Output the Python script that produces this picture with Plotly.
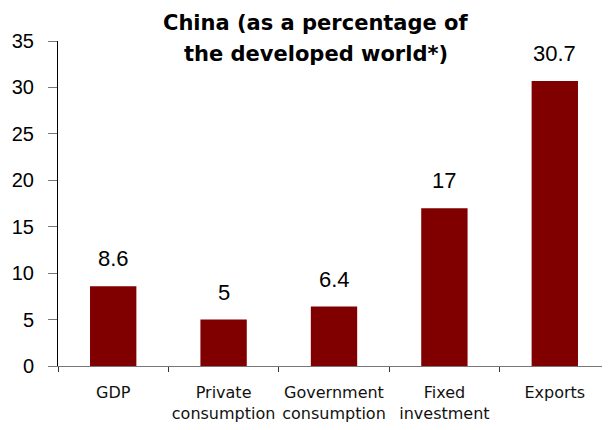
import plotly.graph_objects as go

categories = ["GDP", "Private<br>consumption", "Government<br>consumption", "Fixed<br>investment", "Exports"]
values = [8.6, 5, 6.4, 17, 30.7]
labels = ["8.6", "5", "6.4", "17", "30.7"]
y_ticks = [0, 5, 10, 15, 20, 25, 30, 35]
title_lines = ["China (as a percentage of", "the developed world*)"]

FONT = "Arial, Liberation Sans, sans-serif"

fig = go.Figure()
fig.add_trace(go.Bar(
    x=categories, y=values,
    marker=dict(color="#800000", line=dict(width=0)),
    width=0.42,
))
for c, v, t in zip(categories, values, labels):
    fig.add_annotation(x=c, y=v, text=t, showarrow=False, yanchor="bottom",
                       yshift=13, font=dict(family=FONT, size=22, color="black"))

for line, shift in zip(title_lines, [18, -13]):
    fig.add_annotation(xref="paper", yref="paper", x=0.468, y=1, yshift=shift,
                       xanchor="center", yanchor="middle", showarrow=False,
                       text="<b>" + line + "</b>",
                       font=dict(family="DejaVu Sans, sans-serif", size=21, color="black"))

fig.update_layout(
    width=602, height=422,
    margin=dict(l=50, r=0, t=33, b=64, autoexpand=False),
    paper_bgcolor="white", plot_bgcolor="white",
    showlegend=False,
    font=dict(family=FONT),
)
fig.update_yaxes(range=[0, 35], tickvals=y_ticks, ticks="outside", ticklen=9,
                 tickcolor="#777", showline=True, linecolor="black", linewidth=1,
                 showgrid=False, zeroline=False, ticklabelstandoff=10,
                 automargin=False,
                 tickfont=dict(family=FONT, size=20, color="black"))
fig.update_xaxes(showline=True, linecolor="#777", linewidth=1, ticks="outside",
                 tickson="boundaries", ticklen=5, tickcolor="#333",
                 showgrid=False, ticklabelstandoff=12, tickangle=0,
                 automargin=False,
                 tickfont=dict(family="DejaVu Sans, sans-serif", size=16, color="#111"))

fig.write_html("out.html")
